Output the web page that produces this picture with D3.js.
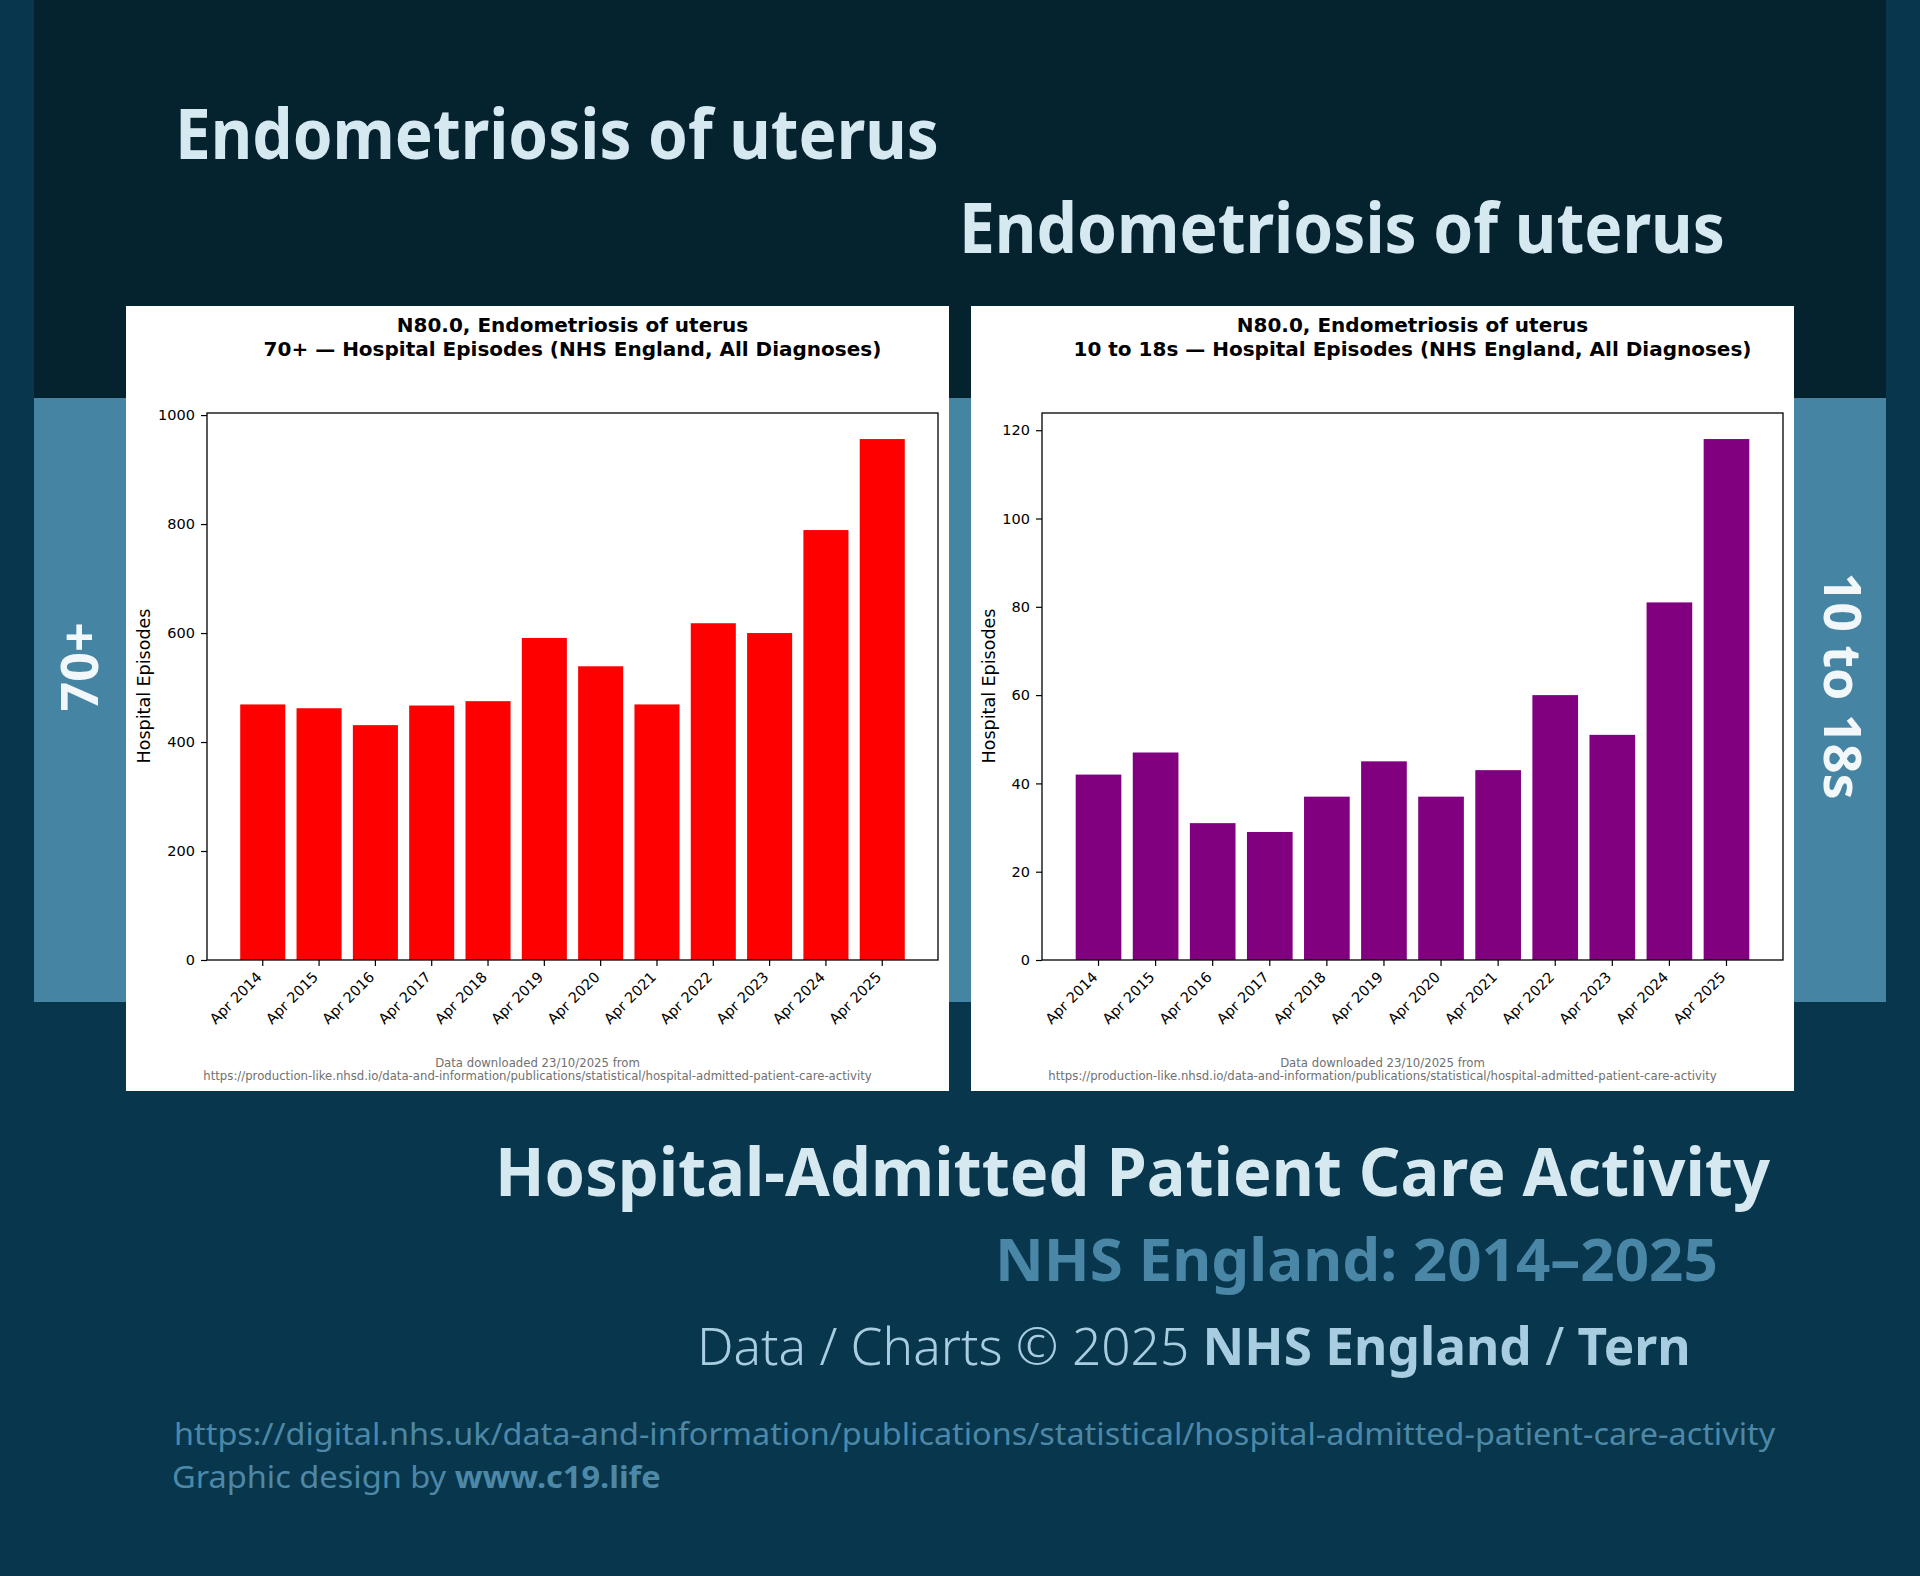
<!DOCTYPE html>
<html>
<head>
<meta charset="utf-8">
<script src="https://cdn.jsdelivr.net/npm/d3@7"></script>
<style>
  body { margin: 0; background: #08364d; }
  svg { display: block; }
</style>
</head>
<body>
<div id="poster"></div>
<script>
// values (hospital episodes per year)
var years = ["Apr 2014", "Apr 2015", "Apr 2016", "Apr 2017", "Apr 2018", "Apr 2019",
             "Apr 2020", "Apr 2021", "Apr 2022", "Apr 2023", "Apr 2024", "Apr 2025"];
var episodes70 = [469, 462, 431, 467, 475, 591, 539, 469, 618, 600, 789, 956];
var episodesTeens = [42, 47, 31, 29, 37, 45, 37, 43, 60, 51, 81, 118];
var ticks70 = [0, 200, 400, 600, 800, 1000];
var ticksTeens = [0, 20, 40, 60, 80, 100, 120];

var W = 1920, H = 1576;
var svg = d3.select("#poster").append("svg")
    .attr("width", W)
    .attr("height", H);

// background blocks
svg.append("rect").attr("width", W).attr("height", H).attr("fill", "#08364d");
svg.append("rect").attr("x", 34).attr("y", 0).attr("width", 1852).attr("height", 398).attr("fill", "#05222f");
svg.append("rect").attr("x", 34).attr("y", 398).attr("width", 1852).attr("height", 604).attr("fill", "#4684a3");

var posterFont = "'Noto Sans', 'Open Sans', sans-serif";

// squeeze/stretch a text horizontally so it spans x0..x1
function fitText(t, x0, x1, y) {
  var bb = t.node().getBBox();
  var s = (x1 - x0) / bb.width;
  t.attr("transform", "translate(" + (x0 - bb.x * s) + "," + y + ") scale(" + s + ",1)");
}

function bigText(str, size, weight, color, x0, x1, y) {
  var t = svg.append("text")
    .attr("x", 0).attr("y", 0)
    .attr("font-family", posterFont)
    .attr("font-size", size)
    .attr("font-weight", weight)
    .attr("fill", color)
    .text(str);
  fitText(t, x0, x1, y);
  return t;
}

bigText("Endometriosis of uterus", 70, 700, "#d6e9f1", 175, 939, 159);
bigText("Endometriosis of uterus", 70, 700, "#d6e9f1", 959, 1725, 253);

// side labels
svg.append("text")
  .attr("transform", "translate(98,667) rotate(-90)")
  .attr("text-anchor", "middle")
  .attr("font-family", posterFont)
  .attr("font-size", 52)
  .attr("font-weight", 700)
  .attr("fill", "#f2f7fa")
  .text("70+");
svg.append("text")
  .attr("transform", "translate(1824,686) rotate(90)")
  .attr("text-anchor", "middle")
  .attr("font-family", posterFont)
  .attr("font-size", 52)
  .attr("font-weight", 700)
  .attr("fill", "#f2f7fa")
  .text("10 to 18s");

// one matplotlib-like chart panel
function drawPanel(cfg) {
  var g = svg.append("g");
  g.append("rect")
    .attr("x", cfg.px).attr("y", 306)
    .attr("width", cfg.pw).attr("height", 785)
    .attr("fill", "#ffffff");

  var x = d3.scaleBand()
    .domain(years)
    .range([cfg.left, cfg.right])
    .paddingInner(0.2)
    .paddingOuter(0.59);

  var y = d3.scaleLinear()
    .domain([0, d3.max(cfg.values) * 1.05])
    .range([960, 413]);

  g.selectAll("rect.bar")
    .data(cfg.values)
    .enter()
    .append("rect")
      .attr("class", "bar")
      .attr("x", function(d, i) { return x(years[i]); })
      .attr("y", function(d) { return y(d); })
      .attr("width", x.bandwidth())
      .attr("height", function(d) { return y(0) - y(d); })
      .attr("fill", cfg.color);

  // frame
  g.append("rect")
    .attr("x", cfg.left).attr("y", 413)
    .attr("width", cfg.right - cfg.left).attr("height", 547)
    .attr("fill", "none")
    .attr("stroke", "#000")
    .attr("stroke-width", 1.3);

  var yAxis = g.append("g")
    .attr("transform", "translate(" + cfg.left + ",0)")
    .call(d3.axisLeft(y).tickValues(cfg.ticks).tickFormat(d3.format("d"))
      .tickSize(6).tickPadding(6));
  yAxis.select(".domain").remove();
  yAxis.selectAll("text")
    .attr("font-family", "'DejaVu Sans', sans-serif")
    .attr("font-size", 14.5)
    .attr("fill", "#000");
  yAxis.selectAll("line").attr("stroke-width", 1.2);

  var xAxis = g.append("g")
    .attr("transform", "translate(0,960)")
    .call(d3.axisBottom(x).tickSize(6).tickFormat(""));
  xAxis.select(".domain").remove();
  xAxis.selectAll("line").attr("stroke-width", 1.2);

  g.selectAll("text.xlab")
    .data(years)
    .enter()
    .append("text")
      .attr("class", "xlab")
      .attr("transform", function(d) {
        return "translate(" + (x(d) + x.bandwidth() / 2) + ",978) rotate(-45)";
      })
      .attr("text-anchor", "end")
      .attr("font-family", "'DejaVu Sans', sans-serif")
      .attr("font-size", 14.5)
      .attr("fill", "#000")
      .text(function(d) { return d; });

  g.append("text")
    .attr("transform", "translate(" + (cfg.ylabX + 6) + ",686) rotate(-90)")
    .attr("text-anchor", "middle")
    .attr("font-family", "'DejaVu Sans', sans-serif")
    .attr("font-size", 17.5)
    .attr("fill", "#000")
    .text("Hospital Episodes");

  var cx = (cfg.left + cfg.right) / 2;
  g.append("text")
    .attr("x", cx).attr("y", 332)
    .attr("text-anchor", "middle")
    .attr("font-family", "'DejaVu Sans', sans-serif")
    .attr("font-size", 20)
    .attr("font-weight", 700)
    .text("N80.0, Endometriosis of uterus");
  g.append("text")
    .attr("x", cx).attr("y", 356)
    .attr("text-anchor", "middle")
    .attr("font-family", "'DejaVu Sans', sans-serif")
    .attr("font-size", 20)
    .attr("font-weight", 700)
    .text(cfg.group + " \u2014 Hospital Episodes (NHS England, All Diagnoses)");

  var fx = cfg.px + cfg.pw / 2;
  g.append("text")
    .attr("x", fx).attr("y", 1067)
    .attr("text-anchor", "middle")
    .attr("font-family", "'DejaVu Sans', sans-serif")
    .attr("font-size", 11.7)
    .attr("fill", "#707070")
    .text("Data downloaded 23/10/2025 from");
  g.append("text")
    .attr("x", fx).attr("y", 1080)
    .attr("text-anchor", "middle")
    .attr("font-family", "'DejaVu Sans', sans-serif")
    .attr("font-size", 11.7)
    .attr("fill", "#707070")
    .text("https://production-like.nhsd.io/data-and-information/publications/statistical/hospital-admitted-patient-care-activity");
}

drawPanel({px: 126, pw: 823, left: 207, right: 938, ylabX: 144,
           values: episodes70, ticks: ticks70, color: "#ff0000", group: "70+"});
drawPanel({px: 971, pw: 823, left: 1042, right: 1783, ylabX: 989,
           values: episodesTeens, ticks: ticksTeens, color: "#800080", group: "10 to 18s"});

// footer
bigText("Hospital-Admitted Patient Care Activity", 67, 700, "#d6e9f1", 495, 1771, 1196);
bigText("NHS England: 2014\u20132025", 60, 700, "#4a87a6", 995, 1718, 1281);

var credit = svg.append("text")
  .attr("x", 0).attr("y", 0)
  .attr("font-family", posterFont)
  .attr("font-size", 52)
  .attr("fill", "#a8cde0");
credit.append("tspan").attr("font-weight", 300).text("Data / Charts \u00a9 2025 ");
credit.append("tspan").attr("font-weight", 700).text("NHS England");
credit.append("tspan").attr("font-weight", 400).text(" / ");
credit.append("tspan").attr("font-weight", 700).text("Tern");
fitText(credit, 697, 1691, 1365);

bigText("https://digital.nhs.uk/data-and-information/publications/statistical/hospital-admitted-patient-care-activity",
        31, 400, "#4d88a7", 174, 1776, 1445);

var design = svg.append("text")
  .attr("x", 0).attr("y", 0)
  .attr("font-family", posterFont)
  .attr("font-size", 31)
  .attr("fill", "#4d88a7");
design.append("tspan").attr("font-weight", 400).text("Graphic design by ");
design.append("tspan").attr("font-weight", 700).text("www.c19.life");
fitText(design, 172, 661, 1488);
</script>
</body>
</html>
